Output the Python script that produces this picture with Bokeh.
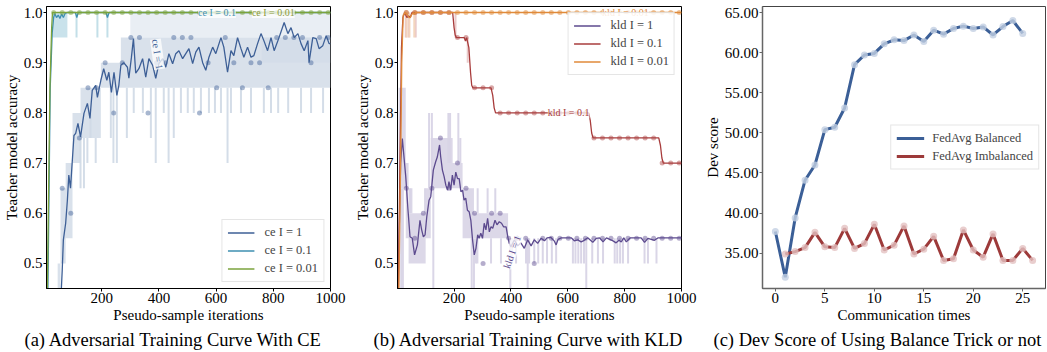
from bokeh.plotting import figure
from bokeh.layouts import row
from bokeh.models import (Range1d, FixedTicker, PrintfTickFormatter, Legend, LegendItem,
                          Label, Title)
from bokeh.embed import file_html
from bokeh.resources import INLINE

FONT = "Liberation Serif"

# ---------------- Panel (a): CE ----------------
ce1_x = [55, 59, 62, 66, 74, 80, 85, 91, 103, 109, 117, 126, 138, 150, 159, 167, 179, 185, 197, 207,
         218, 225, 234, 243, 253, 260, 267, 277, 290, 295, 304, 311, 319, 330, 343, 354, 365, 378, 389, 400,
         413, 424, 435, 448, 459, 470, 483, 494, 505, 518, 529, 540, 553, 564, 575, 588, 599, 617, 627, 640,
         652, 662, 675, 687, 697, 710, 722, 732, 745, 757, 767, 780, 792, 803, 820, 838, 851, 862, 873, 886,
         897, 908, 921, 925, 938, 950, 960, 973, 985, 995, 1000]
ce1_y = [0.40, 0.45, 0.487, 0.547, 0.58, 0.626, 0.676, 0.65, 0.755, 0.759, 0.779, 0.752, 0.799, 0.819, 0.789, 0.845, 0.855, 0.831, 0.865, 0.888,
         0.865, 0.881, 0.841, 0.881, 0.835, 0.855, 0.895, 0.90, 0.891, 0.869, 0.911, 0.948, 0.879, 0.888, 0.908, 0.871, 0.908, 0.895, 0.869, 0.898,
         0.908, 0.891, 0.918, 0.898, 0.918, 0.924, 0.908, 0.918, 0.928, 0.898, 0.921, 0.931, 0.90, 0.885, 0.911, 0.931, 0.918, 0.95, 0.931, 0.881,
         0.924, 0.914, 0.95, 0.928, 0.911, 0.931, 0.911, 0.914, 0.938, 0.958, 0.944, 0.924, 0.95, 0.924, 0.95, 0.98, 0.958, 0.97, 0.95, 0.958,
         0.938, 0.924, 0.944, 0.90, 0.95, 0.948, 0.928, 0.934, 0.954, 0.938, 0.938]
ce01_x = [12, 20, 27, 32, 36, 42, 48, 54, 60, 66, 72, 80, 108, 113, 118, 215, 220, 226, 1000]
ce01_y = [0.45, 0.85, 0.96, 0.99, 0.998, 0.99, 0.995, 0.988, 0.997, 0.99, 0.998, 1.0, 1.0, 0.99, 1.0, 1.0, 0.99, 1.0, 1.0]
ce001_x = [10, 19, 25, 28, 1000]
ce001_y = [0.45, 0.85, 0.97, 1.0, 1.0]

# raw accuracy envelope (step band) for ce I = 1
ce1_band_edges = [46, 56, 74, 98, 126, 197, 267, 1000]
ce1_band_lo = [0.45, 0.50, 0.55, 0.70, 0.75, 0.85, 0.85]
ce1_band_hi = [0.50, 0.65, 0.70, 0.80, 0.85, 0.90, 0.95]
ce1_top_edges = [300, 760, 1000]
ce1_top_lo = [0.95, 0.90]
ce1_top_hi = [1.0, 1.0]
ce1_spk_x = [126, 138, 150, 161, 179, 232, 241, 253, 288, 312, 344, 372, 389, 417, 434, 452, 477, 501,
             522, 547, 575, 596, 617, 640, 652, 687, 722, 767, 792, 817, 852, 897, 932, 974]
ce1_spk_lo = [0.65, 0.65, 0.70, 0.75, 0.70, 0.75, 0.70, 0.70, 0.75, 0.80, 0.80, 0.75, 0.70, 0.80, 0.70, 0.75, 0.80, 0.80,
              0.80, 0.80, 0.80, 0.80, 0.80, 0.70, 0.80, 0.80, 0.80, 0.80, 0.80, 0.80, 0.80, 0.80, 0.80, 0.80]
ce1_spk_hi = [0.75, 0.75, 0.75, 0.80, 0.75, 0.85, 0.85, 0.85, 0.85, 0.85, 0.85, 0.85, 0.85, 0.85, 0.85, 0.85, 0.85, 0.85,
              0.85, 0.85, 0.85, 0.85, 0.85, 0.85, 0.85, 0.85, 0.85, 0.85, 0.85, 0.85, 0.85, 0.85, 0.85, 0.85]
ce01_band_edges = [28, 80]
ce01_band_lo = [0.95]
ce01_band_hi = [1.0]
ce01_spk_x = [112, 185, 220]
ce01_spk_lo = [0.95, 0.95, 0.95]
ce01_spk_hi = [1.0, 1.0, 1.0]

ce1_dot_x = [62, 92, 122, 152, 182, 212, 242, 272, 302, 332, 362, 392, 422, 452, 482, 512, 542, 572, 602, 632,
             662, 692, 722, 752, 782, 812, 842, 872, 902, 932, 962, 992]
ce1_dot_y = [0.65, 0.60, 0.75, 0.85, 0.85, 0.90, 0.80, 0.90, 0.95, 0.95, 0.80, 0.90, 0.90, 0.95, 0.95, 0.95, 0.80, 0.90, 0.85, 0.95,
             0.90, 0.85, 0.90, 0.90, 0.85, 0.95, 0.95, 0.95, 0.95, 0.90, 0.95, 0.95]
top_dot_x = [32, 62, 92, 122, 152, 182, 212, 242, 272, 302, 332, 362, 392, 422, 452, 482, 512, 542, 572, 602, 632,
             662, 692, 722, 752, 782, 812, 842, 872, 902, 932, 962, 992]
ce001_dot_y = [1.0] * 33

# ---------------- Panel (b): KLD ----------------
kld1_x = [3, 12, 18, 30, 38, 45, 53, 61, 71, 80, 86, 92, 98, 104, 112, 118, 127, 135, 141, 149,
          153, 159, 165, 171, 177, 182, 188, 194, 200, 206, 212, 218, 224, 230, 235, 241, 247, 253, 259, 265,
          271, 277, 283, 288, 294, 300, 306, 312, 318, 324, 330, 336, 344, 351, 359, 367, 374, 383, 389, 394,
          400, 412, 424, 435, 447, 459, 471, 482, 494, 506, 518, 527, 540, 552, 559, 566, 577, 612, 623, 635,
          647, 658, 670, 688, 700, 712, 724, 736, 759, 770, 780, 788, 797, 806, 820, 858, 870, 882, 905, 918, 1000]
kld1_y = [0.45, 0.70, 0.749, 0.673, 0.606, 0.553, 0.55, 0.517, 0.537, 0.586, 0.567, 0.553, 0.557, 0.593, 0.626, 0.633, 0.686, 0.702, 0.712, 0.736,
          0.712, 0.686, 0.673, 0.656, 0.646, 0.663, 0.646, 0.676, 0.656, 0.682, 0.669, 0.669, 0.643, 0.646, 0.626, 0.63, 0.606, 0.603, 0.586, 0.547,
          0.517, 0.53, 0.557, 0.55, 0.56, 0.55, 0.58, 0.567, 0.59, 0.563, 0.573, 0.57, 0.586, 0.577, 0.583, 0.58, 0.573, 0.573, 0.553, 0.54,
          0.533, 0.547, 0.535, 0.541, 0.53, 0.547, 0.535, 0.547, 0.54, 0.55, 0.545, 0.551, 0.552, 0.545, 0.537, 0.548, 0.551, 0.551, 0.545, 0.547,
          0.543, 0.546, 0.551, 0.542, 0.55, 0.551, 0.543, 0.551, 0.545, 0.541, 0.546, 0.543, 0.551, 0.543, 0.551, 0.551, 0.542, 0.55, 0.546, 0.551, 0.551]
kld01_x = [4, 10, 15, 20, 26, 34, 40, 46, 52, 195, 200, 204, 208, 236, 240, 244, 252, 258, 262, 266,
           330, 336, 341, 346, 673, 679, 684, 689, 920, 926, 931, 936, 1000]
kld01_y = [0.45, 0.72, 0.93, 0.99, 1.0, 0.99, 0.993, 0.99, 1.0, 1.0, 0.97, 0.955, 0.95, 0.95, 0.943, 0.95, 0.93, 0.88, 0.855, 0.85,
           0.85, 0.835, 0.81, 0.80, 0.80, 0.785, 0.76, 0.75, 0.75, 0.735, 0.71, 0.70, 0.70]
kld001_x = [6, 12, 16, 21, 28, 36, 41, 46, 51, 56, 60, 64, 1000]
kld001_y = [0.45, 0.70, 0.90, 0.995, 1.0, 0.995, 0.99, 0.99, 0.996, 1.0, 0.997, 1.0, 1.0]

kld1_band_edges = [5, 30, 40, 100, 118, 195, 230, 270, 390]
kld1_band_lo = [0.65, 0.55, 0.50, 0.55, 0.65, 0.65, 0.55, 0.55]
kld1_band_hi = [0.85, 0.70, 0.60, 0.65, 0.75, 0.70, 0.65, 0.60]
kld1_spk_x = [112, 122, 180, 186, 215, 222, 14, 20, 127, 262, 270, 277, 282, 330, 365, 398, 404, 418, 453, 459,
              464, 482, 496, 512, 527, 544, 559, 618, 627, 637, 647, 657, 665, 686, 706, 724, 765, 774, 784, 794,
              812, 870, 882, 912, 283, 318, 345, 45, 50, 98]
kld1_spk_lo = [0.65, 0.65, 0.70, 0.70, 0.70, 0.70, 0.45, 0.45, 0.45, 0.45, 0.45, 0.50, 0.50, 0.50, 0.50, 0.45, 0.50, 0.50, 0.50, 0.45,
               0.50, 0.50, 0.50, 0.50, 0.50, 0.50, 0.50, 0.50, 0.50, 0.50, 0.50, 0.50, 0.45, 0.50, 0.50, 0.50, 0.50, 0.50, 0.50, 0.50,
               0.50, 0.50, 0.50, 0.50, 0.60, 0.60, 0.60, 0.60, 0.60, 0.60]
kld1_spk_hi = [0.80, 0.80, 0.80, 0.80, 0.80, 0.75, 0.65, 0.65, 0.65, 0.55, 0.55, 0.55, 0.55, 0.55, 0.55, 0.55, 0.55, 0.55, 0.55, 0.55,
               0.55, 0.55, 0.55, 0.55, 0.55, 0.55, 0.55, 0.55, 0.55, 0.55, 0.55, 0.55, 0.55, 0.55, 0.55, 0.55, 0.55, 0.55, 0.55, 0.55,
               0.55, 0.55, 0.55, 0.55, 0.65, 0.65, 0.65, 0.65, 0.65, 0.65]
kld01_spk_x = [30, 40, 65, 205, 248]
kld01_spk_lo = [0.95, 0.95, 0.95, 0.95, 0.90]
kld01_spk_hi = [1.0, 1.0, 1.0, 1.0, 0.95]
kld001_spk_x = [33, 43, 60]
kld001_spk_lo = [0.95, 0.95, 0.95]
kld001_spk_hi = [1.0, 1.0, 1.0]

kld1_dot_y = [0.65, 0.55, 0.60, 0.65, 0.75, 0.65, 0.70, 0.65, 0.60, 0.50, 0.60, 0.60, 0.55, 0.55, 0.55, 0.50,
              0.55, 0.55, 0.55, 0.55, 0.55, 0.55, 0.55, 0.55, 0.55, 0.55, 0.55, 0.55, 0.55, 0.55, 0.55, 0.55, 0.55]
kld01_dot_y = [1.0, 1.0, 1.0, 1.0, 1.0, 1.0, 0.95, 0.95, 0.85, 0.85, 0.85,
               0.80, 0.80, 0.80, 0.80, 0.80, 0.80, 0.80, 0.80, 0.80, 0.80, 0.80,
               0.75, 0.75, 0.75, 0.75, 0.75, 0.75, 0.75, 0.75, 0.70, 0.70, 0.70]
kld001_dot_y = [1.0] * 33

# ---------------- Panel (c): Dev score ----------------
comm_bal = [0, 1, 2, 3, 4, 5, 6, 7, 8, 9, 10, 11, 12, 13, 14, 15, 16, 17, 18, 19, 20, 21, 22, 23, 24, 25]
dev_bal = [37.7, 32.0, 39.4, 44.1, 46.0, 50.4, 50.7, 53.1, 58.5, 59.7, 59.9, 61.1, 61.6, 61.5, 62.2, 61.4,
           62.8, 62.3, 63.0, 63.3, 63.0, 63.2, 62.2, 63.25, 64.0, 62.4]
comm_imb = [1, 2, 3, 4, 5, 6, 7, 8, 9, 10, 11, 12, 13, 14, 15, 16, 17, 18, 19, 20, 21, 22, 23, 24, 25, 26]
dev_imb = [34.9, 35.2, 35.7, 37.6, 35.8, 35.7, 38.1, 35.6, 36.2, 38.6, 35.4, 36.0, 38.4, 34.9, 35.5, 37.1,
           34.1, 34.3, 37.9, 35.4, 34.5, 37.4, 34.1, 34.1, 35.6, 34.1]

acc_ticks = [0.5, 0.6, 0.7, 0.8, 0.9, 1.0]
iter_ticks = [200, 400, 600, 800, 1000]
comm_ticks = [0, 5, 10, 15, 20, 25]
dev_ticks = [35, 40, 45, 50, 55, 60, 65]

H = 351
TOP = 6
FRAME_H = 282


def make_fig(width, bl, br, xr, yr):
    p = figure(width=width, height=H, x_range=Range1d(*xr), y_range=Range1d(*yr),
               output_backend="svg", toolbar_location=None,
               min_border_left=bl, min_border_right=br, min_border_top=TOP,
               min_border_bottom=H - TOP - FRAME_H)
    p.grid.visible = False
    p.background_fill_color = "white"
    p.border_fill_color = "white"
    return p


def style_axes(p, xticks, yticks, yfmt, xlabel, ylabel, color="black", width=1):
    p.xaxis.ticker = FixedTicker(ticks=xticks)
    p.yaxis.ticker = FixedTicker(ticks=yticks)
    p.yaxis.formatter = PrintfTickFormatter(format=yfmt)
    for ax in (p.xaxis[0], p.yaxis[0]):
        ax.axis_line_color = color
        ax.axis_line_width = width
        ax.major_tick_line_color = color
        ax.major_tick_line_width = 1
        ax.major_tick_out = 3
        ax.major_tick_in = 0
        ax.minor_tick_line_color = None
        ax.major_label_text_font = FONT
        ax.major_label_text_font_size = "15px"
        ax.major_label_text_color = "black"
        ax.major_label_standoff = 1
        ax.axis_label_text_font = FONT
        ax.axis_label_text_font_size = "15px"
        ax.axis_label_text_font_style = "normal"
        ax.axis_label_text_color = "black"
        ax.axis_label_standoff = 1
    p.xaxis.axis_label = xlabel
    p.yaxis.axis_label = ylabel


def caption(p, text, offset):
    p.add_layout(Title(text=text, align="left", text_font=FONT, text_font_size="18.5px",
                       text_font_style="normal", text_color="black", offset=offset, standoff=4), "below")


def legend(p, items, location, glyph_w=27, standoff=10):
    leg = Legend(items=[LegendItem(label=l, renderers=[r]) for l, r in items], location=location,
                 label_text_font=FONT, label_text_font_size="12.5px", glyph_width=glyph_w, glyph_height=15,
                 label_height=15, label_standoff=standoff, spacing=3, padding=5, margin=6,
                 border_line_color="#cccccc", border_line_width=1, background_fill_alpha=0.85)
    p.add_layout(leg)


def step_band(p, edges, lo, hi, color, alpha):
    xs, l, h = [], [], []
    for i in range(len(lo)):
        xs += [edges[i], edges[i + 1]]
        l += [lo[i], lo[i]]
        h += [hi[i], hi[i]]
    p.varea(x=xs, y1=l, y2=h, fill_color=color, fill_alpha=alpha)


def spikes(p, xs, lo, hi, color, alpha):
    p.segment(x0=xs, y0=lo, x1=xs, y1=hi, line_color=color, line_width=2, line_alpha=alpha)


def inline_label(p, x, y, text, color, angle=0):
    p.add_layout(Label(x=x, y=y, text=text, text_font=FONT, text_font_size="10px", text_color=color,
                       text_align="center", text_baseline="middle", angle=angle, angle_units="deg",
                       background_fill_color="white", background_fill_alpha=0.75))


C_CE1, C_CE01, C_CE001 = "#3d5f96", "#3e8fb0", "#7ba33c"
C_K1, C_K01, C_K001 = "#5c4a8e", "#a83c3c", "#e08a3a"

# ---- figure a
pa = make_fig(350, 46, 20, (7, 1000), (0.45, 1.012))
pa.outline_line_color = "black"
pa.outline_line_alpha = 1
step_band(pa, ce1_band_edges, ce1_band_lo, ce1_band_hi, "#cfd9e6", 0.8)
step_band(pa, ce1_top_edges, ce1_top_lo, ce1_top_hi, "#cfd9e6", 0.45)
spikes(pa, ce1_spk_x, ce1_spk_lo, ce1_spk_hi, "#cfd9e6", 0.9)
step_band(pa, ce01_band_edges, ce01_band_lo, ce01_band_hi, "#bcdbe6", 0.8)
spikes(pa, ce01_spk_x, ce01_spk_lo, ce01_spk_hi, "#bcdbe6", 0.9)
pa.scatter(ce1_dot_x, ce1_dot_y, size=5, fill_color=C_CE1, fill_alpha=0.45, line_color=None)
r_ce1 = pa.line(ce1_x, ce1_y, line_color=C_CE1, line_width=1.3)
r_ce01 = pa.line(ce01_x, ce01_y, line_color=C_CE01, line_width=1.3)
pa.scatter(top_dot_x, ce001_dot_y, size=5, fill_color=C_CE001, fill_alpha=0.5, line_color=None)
r_ce001 = pa.line(ce001_x, ce001_y, line_color=C_CE001, line_width=1.3)
inline_label(pa, 603, 1.0, "ce I = 0.1", C_CE01)
inline_label(pa, 800, 1.0, "ce I = 0.01", "#8c9a3c")
inline_label(pa, 395, 0.917, "ce I = 1", C_CE1, angle=-82)
style_axes(pa, iter_ticks, acc_ticks, "%.1f", "Pseudo-sample iterations", "Teacher model accuracy")
legend(pa, [("ce I = 1", r_ce1), ("ce I = 0.1", r_ce01), ("ce I = 0.01", r_ce001)], "bottom_right")
caption(pa, "(a) Adversarial Training Curve With CE", -22)

# ---- figure b
pb = make_fig(351, 47, 20, (1, 1000), (0.45, 1.012))
pb.outline_line_color = "black"
pb.outline_line_alpha = 1
step_band(pb, kld1_band_edges, kld1_band_lo, kld1_band_hi, "#d8d4e6", 0.9)
spikes(pb, kld1_spk_x, kld1_spk_lo, kld1_spk_hi, "#d8d4e6", 0.95)
spikes(pb, kld01_spk_x, kld01_spk_lo, kld01_spk_hi, "#e8c4c4", 0.9)
spikes(pb, kld001_spk_x, kld001_spk_lo, kld001_spk_hi, "#f3d3b8", 0.9)
pb.scatter(top_dot_x, kld1_dot_y, size=5, fill_color=C_K1, fill_alpha=0.45, line_color=None)
r_k1 = pb.line(kld1_x, kld1_y, line_color=C_K1, line_width=1.3)
pb.scatter(top_dot_x, kld01_dot_y, size=5, fill_color=C_K01, fill_alpha=0.45, line_color=None)
r_k01 = pb.line(kld01_x, kld01_y, line_color=C_K01, line_width=1.3)
pb.scatter(top_dot_x, kld001_dot_y, size=5, fill_color=C_K001, fill_alpha=0.5, line_color=None)
r_k001 = pb.line(kld001_x, kld001_y, line_color=C_K001, line_width=1.3)
inline_label(pb, 803, 1.0, "kld I = 0.01", C_K001)
inline_label(pb, 603, 0.80, "kld I = 0.1", C_K01)
inline_label(pb, 404, 0.523, "kld I = 1", C_K1, angle=70)
style_axes(pb, iter_ticks, acc_ticks, "%.1f", "Pseudo-sample iterations", "Teacher model accuracy")
legend(pb, [("kld I = 1", r_k1), ("kld I = 0.1", r_k01), ("kld I = 0.01", r_k001)], "top_right")
caption(pb, "(b) Adversarial Training Curve with KLD", -24)

# ---- figure c
C_BAL, C_IMB = "#3b5f97", "#9d3a3a"
pc = make_fig(346, 58, 2, (-1.3, 27.3), (30.6, 65.75))
pc.outline_line_color = "#444444"
pc.outline_line_alpha = 1
r_bal = pc.line(comm_bal, dev_bal, line_color=C_BAL, line_width=3)
pc.scatter(comm_bal, dev_bal, size=7, fill_color="#c3d0e2", fill_alpha=0.8, line_color=None)
r_imb = pc.line(comm_imb, dev_imb, line_color=C_IMB, line_width=3)
pc.scatter(comm_imb, dev_imb, size=7, fill_color="#e3c2c2", fill_alpha=0.8, line_color=None)
style_axes(pc, comm_ticks, dev_ticks, "%.2f", "Communication times", "Dev score", color="#666666", width=1.5)
legend(pc, [("FedAvg Balanced", r_bal), ("FedAvg Imbalanced", r_imb)], "right", glyph_w=28, standoff=8)
caption(pc, "(c) Dev Score of Using Balance Trick or not", -49)

layout = row(pa, pb, pc)
open("out.html", "w").write(file_html(layout, INLINE))
